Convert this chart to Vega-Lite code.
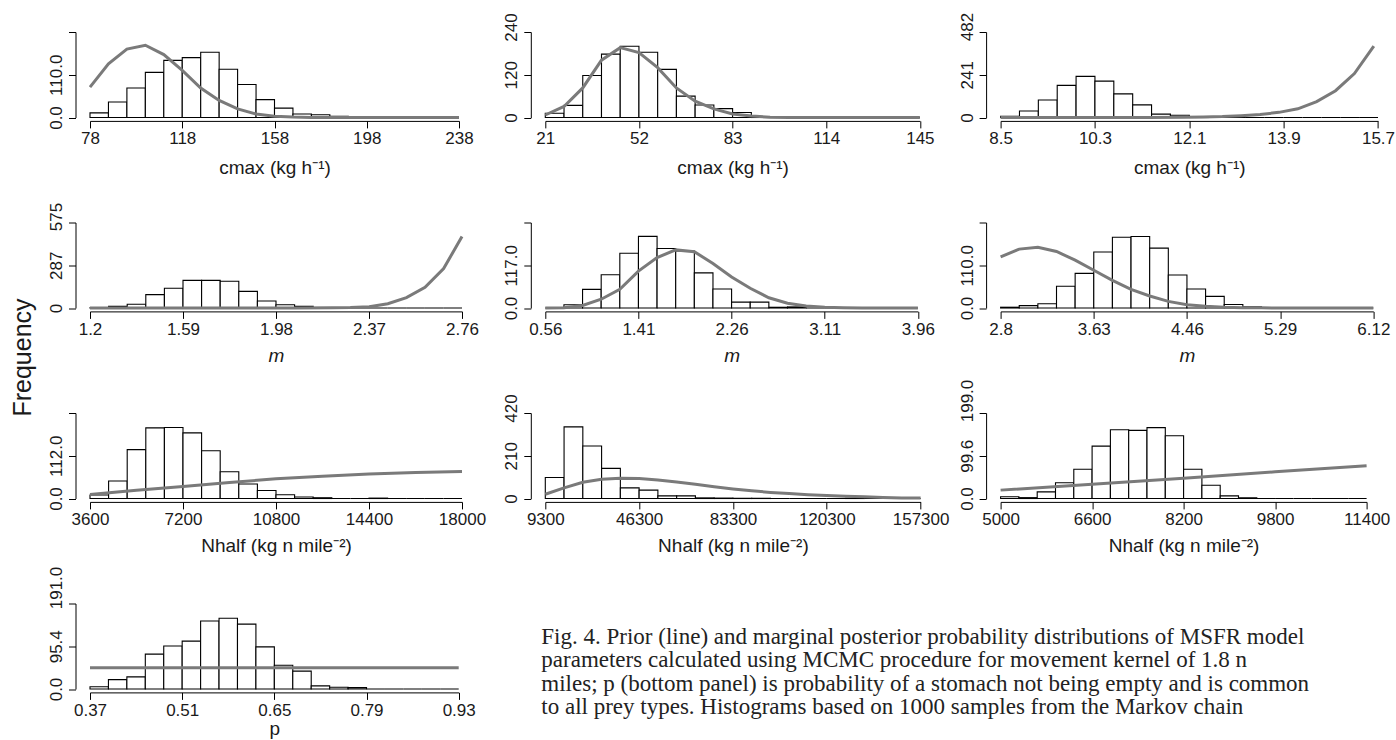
{
  "$schema": "https://vega.github.io/schema/vega-lite/v6.json",
  "background": "white",
  "padding": {"left": 10, "top": 12, "right": 0, "bottom": 0},
  "columns": 3,
  "spacing": {"row": 104.5, "column": 77.3},
  "bounds": "flush",
  "align": "all",
  "datasets": {
    "b1": [
      {"lo": 78, "hi": 86, "n": 12}, {"lo": 86, "hi": 94, "n": 40}, {"lo": 94, "hi": 102, "n": 76}, {"lo": 102, "hi": 110, "n": 116},
      {"lo": 110, "hi": 118, "n": 147}, {"lo": 118, "hi": 126, "n": 154}, {"lo": 126, "hi": 134, "n": 168}, {"lo": 134, "hi": 142, "n": 124},
      {"lo": 142, "hi": 150, "n": 85}, {"lo": 150, "hi": 158, "n": 46}, {"lo": 158, "hi": 166, "n": 24}, {"lo": 166, "hi": 174, "n": 9},
      {"lo": 174, "hi": 182, "n": 7}, {"lo": 182, "hi": 190, "n": 3}, {"lo": 190, "hi": 198, "n": 1}, {"lo": 198, "hi": 206, "n": 0},
      {"lo": 206, "hi": 214, "n": 0}, {"lo": 214, "hi": 222, "n": 0}, {"lo": 222, "hi": 230, "n": 0}, {"lo": 230, "hi": 238, "n": 0}
    ],
    "l1": [
      {"lo": 78, "n": 78}, {"lo": 86, "n": 138}, {"lo": 94, "n": 176}, {"lo": 102, "n": 186}, {"lo": 110, "n": 162},
      {"lo": 118, "n": 121}, {"lo": 126, "n": 76}, {"lo": 134, "n": 44}, {"lo": 142, "n": 22}, {"lo": 150, "n": 9},
      {"lo": 158, "n": 3.5}, {"lo": 166, "n": 1}, {"lo": 174, "n": 0.3}, {"lo": 190, "n": 0}, {"lo": 238, "n": 0}
    ],
    "b2": [
      {"lo": 21, "hi": 27.2, "n": 12}, {"lo": 27.2, "hi": 33.4, "n": 34}, {"lo": 33.4, "hi": 39.6, "n": 118}, {"lo": 39.6, "hi": 45.8, "n": 178},
      {"lo": 45.8, "hi": 52, "n": 200}, {"lo": 52, "hi": 58.2, "n": 183}, {"lo": 58.2, "hi": 64.4, "n": 135}, {"lo": 64.4, "hi": 70.6, "n": 60},
      {"lo": 70.6, "hi": 76.8, "n": 35}, {"lo": 76.8, "hi": 83, "n": 25}, {"lo": 83, "hi": 89.2, "n": 14}, {"lo": 89.2, "hi": 95.4, "n": 2},
      {"lo": 95.4, "hi": 101.6, "n": 1}, {"lo": 101.6, "hi": 107.8, "n": 0}, {"lo": 107.8, "hi": 114, "n": 0}, {"lo": 114, "hi": 120.2, "n": 0},
      {"lo": 120.2, "hi": 126.4, "n": 0}, {"lo": 126.4, "hi": 132.6, "n": 0}, {"lo": 132.6, "hi": 138.8, "n": 0}, {"lo": 138.8, "hi": 145, "n": 0}
    ],
    "l2": [
      {"lo": 21, "n": 7}, {"lo": 27.2, "n": 31}, {"lo": 33.4, "n": 83}, {"lo": 39.6, "n": 161}, {"lo": 45.8, "n": 196},
      {"lo": 52, "n": 182}, {"lo": 58.2, "n": 140}, {"lo": 64.4, "n": 83}, {"lo": 70.6, "n": 46}, {"lo": 76.8, "n": 24},
      {"lo": 83, "n": 10}, {"lo": 89.2, "n": 4}, {"lo": 95.4, "n": 1}, {"lo": 101.6, "n": 0.3}, {"lo": 145, "n": 0}
    ],
    "b3": [
      {"lo": 8.5, "hi": 8.86, "n": 7}, {"lo": 8.86, "hi": 9.22, "n": 37}, {"lo": 9.22, "hi": 9.58, "n": 99}, {"lo": 9.58, "hi": 9.94, "n": 181},
      {"lo": 9.94, "hi": 10.3, "n": 232}, {"lo": 10.3, "hi": 10.66, "n": 205}, {"lo": 10.66, "hi": 11.02, "n": 133}, {"lo": 11.02, "hi": 11.38, "n": 71},
      {"lo": 11.38, "hi": 11.74, "n": 19}, {"lo": 11.74, "hi": 12.1, "n": 13}, {"lo": 12.1, "hi": 12.46, "n": 2}, {"lo": 12.46, "hi": 12.82, "n": 0},
      {"lo": 12.82, "hi": 13.18, "n": 0}, {"lo": 13.18, "hi": 13.54, "n": 0}, {"lo": 13.54, "hi": 13.9, "n": 0}, {"lo": 13.9, "hi": 14.26, "n": 0},
      {"lo": 14.26, "hi": 14.62, "n": 0}, {"lo": 14.62, "hi": 14.98, "n": 0}, {"lo": 14.98, "hi": 15.34, "n": 0}, {"lo": 15.34, "hi": 15.7, "n": 0}
    ],
    "l3": [
      {"lo": 8.5, "n": 0}, {"lo": 11.3, "n": 0}, {"lo": 12.01, "n": 1}, {"lo": 12.37, "n": 3}, {"lo": 12.73, "n": 5},
      {"lo": 13.09, "n": 10}, {"lo": 13.45, "n": 17}, {"lo": 13.81, "n": 29}, {"lo": 14.17, "n": 49}, {"lo": 14.53, "n": 90},
      {"lo": 14.89, "n": 151}, {"lo": 15.25, "n": 248}, {"lo": 15.62, "n": 403}
    ],
    "b4": [
      {"lo": 1.2, "hi": 1.278, "n": 2}, {"lo": 1.278, "hi": 1.356, "n": 11}, {"lo": 1.356, "hi": 1.434, "n": 25}, {"lo": 1.434, "hi": 1.512, "n": 90},
      {"lo": 1.512, "hi": 1.59, "n": 133}, {"lo": 1.59, "hi": 1.668, "n": 186}, {"lo": 1.668, "hi": 1.746, "n": 186}, {"lo": 1.746, "hi": 1.824, "n": 180},
      {"lo": 1.824, "hi": 1.902, "n": 112}, {"lo": 1.902, "hi": 1.98, "n": 47}, {"lo": 1.98, "hi": 2.058, "n": 22}, {"lo": 2.058, "hi": 2.136, "n": 11},
      {"lo": 2.136, "hi": 2.214, "n": 0}, {"lo": 2.214, "hi": 2.292, "n": 0}, {"lo": 2.292, "hi": 2.37, "n": 0}, {"lo": 2.37, "hi": 2.448, "n": 0},
      {"lo": 2.448, "hi": 2.526, "n": 0}, {"lo": 2.526, "hi": 2.604, "n": 0}, {"lo": 2.604, "hi": 2.682, "n": 0}, {"lo": 2.682, "hi": 2.76, "n": 0}
    ],
    "l4": [
      {"lo": 1.2, "n": 0}, {"lo": 2.058, "n": 0}, {"lo": 2.214, "n": 1}, {"lo": 2.292, "n": 3}, {"lo": 2.371, "n": 8},
      {"lo": 2.449, "n": 29}, {"lo": 2.527, "n": 70}, {"lo": 2.605, "n": 139}, {"lo": 2.683, "n": 265}, {"lo": 2.76, "n": 481}
    ],
    "b5": [
      {"lo": 0.56, "hi": 0.73, "n": 0}, {"lo": 0.73, "hi": 0.9, "n": 9}, {"lo": 0.9, "hi": 1.07, "n": 51}, {"lo": 1.07, "hi": 1.24, "n": 91},
      {"lo": 1.24, "hi": 1.41, "n": 150}, {"lo": 1.41, "hi": 1.58, "n": 196}, {"lo": 1.58, "hi": 1.75, "n": 163}, {"lo": 1.75, "hi": 1.92, "n": 156},
      {"lo": 1.92, "hi": 2.09, "n": 96}, {"lo": 2.09, "hi": 2.26, "n": 52}, {"lo": 2.26, "hi": 2.43, "n": 16}, {"lo": 2.43, "hi": 2.6, "n": 16},
      {"lo": 2.6, "hi": 2.77, "n": 2}, {"lo": 2.77, "hi": 2.94, "n": 3}, {"lo": 2.94, "hi": 3.11, "n": 0}, {"lo": 3.11, "hi": 3.28, "n": 0},
      {"lo": 3.28, "hi": 3.45, "n": 0}, {"lo": 3.45, "hi": 3.62, "n": 0}, {"lo": 3.62, "hi": 3.79, "n": 0}, {"lo": 3.79, "hi": 3.96, "n": 0}
    ],
    "l5": [
      {"lo": 0.56, "n": 0}, {"lo": 0.73, "n": 1}, {"lo": 0.9, "n": 7}, {"lo": 1.07, "n": 24}, {"lo": 1.24, "n": 51},
      {"lo": 1.41, "n": 101}, {"lo": 1.58, "n": 138}, {"lo": 1.75, "n": 159}, {"lo": 1.92, "n": 154}, {"lo": 2.09, "n": 122},
      {"lo": 2.26, "n": 85}, {"lo": 2.43, "n": 54}, {"lo": 2.6, "n": 28}, {"lo": 2.77, "n": 13}, {"lo": 2.94, "n": 5.5},
      {"lo": 3.11, "n": 2}, {"lo": 3.28, "n": 0.5}, {"lo": 3.45, "n": 0}, {"lo": 3.96, "n": 0}
    ],
    "b6": [
      {"lo": 2.8, "hi": 2.966, "n": 2}, {"lo": 2.966, "hi": 3.132, "n": 6}, {"lo": 3.132, "hi": 3.298, "n": 11}, {"lo": 3.298, "hi": 3.464, "n": 56},
      {"lo": 3.464, "hi": 3.63, "n": 89}, {"lo": 3.63, "hi": 3.796, "n": 144}, {"lo": 3.796, "hi": 3.962, "n": 182}, {"lo": 3.962, "hi": 4.128, "n": 184},
      {"lo": 4.128, "hi": 4.294, "n": 154}, {"lo": 4.294, "hi": 4.46, "n": 85}, {"lo": 4.46, "hi": 4.626, "n": 49}, {"lo": 4.626, "hi": 4.792, "n": 30},
      {"lo": 4.792, "hi": 4.958, "n": 9}, {"lo": 4.958, "hi": 5.124, "n": 3}, {"lo": 5.124, "hi": 5.29, "n": 0}, {"lo": 5.29, "hi": 5.456, "n": 0},
      {"lo": 5.456, "hi": 5.622, "n": 0}, {"lo": 5.622, "hi": 5.788, "n": 0}, {"lo": 5.788, "hi": 5.954, "n": 0}, {"lo": 5.954, "hi": 6.12, "n": 0}
    ],
    "l6": [
      {"lo": 2.8, "n": 131.5}, {"lo": 2.966, "n": 151.5}, {"lo": 3.132, "n": 156}, {"lo": 3.298, "n": 145.5}, {"lo": 3.464, "n": 123},
      {"lo": 3.63, "n": 97}, {"lo": 3.796, "n": 71}, {"lo": 3.962, "n": 48}, {"lo": 4.128, "n": 31}, {"lo": 4.294, "n": 17},
      {"lo": 4.46, "n": 8.6}, {"lo": 4.626, "n": 4.3}, {"lo": 4.792, "n": 1.7}, {"lo": 4.958, "n": 0.9}, {"lo": 5.124, "n": 0.4},
      {"lo": 5.29, "n": 0}, {"lo": 6.12, "n": 0}
    ],
    "b7": [
      {"lo": 3600, "hi": 4320, "n": 9}, {"lo": 4320, "hi": 5040, "n": 46}, {"lo": 5040, "hi": 5760, "n": 128}, {"lo": 5760, "hi": 6480, "n": 185},
      {"lo": 6480, "hi": 7200, "n": 186}, {"lo": 7200, "hi": 7920, "n": 172}, {"lo": 7920, "hi": 8640, "n": 125}, {"lo": 8640, "hi": 9360, "n": 70},
      {"lo": 9360, "hi": 10080, "n": 38}, {"lo": 10080, "hi": 10800, "n": 21}, {"lo": 10800, "hi": 11520, "n": 10}, {"lo": 11520, "hi": 12240, "n": 4},
      {"lo": 12240, "hi": 12960, "n": 2}, {"lo": 12960, "hi": 13680, "n": 0}, {"lo": 13680, "hi": 14400, "n": 0}, {"lo": 14400, "hi": 15120, "n": 1},
      {"lo": 15120, "hi": 15840, "n": 0}, {"lo": 15840, "hi": 16560, "n": 0}, {"lo": 16560, "hi": 17280, "n": 0}, {"lo": 17280, "hi": 18000, "n": 0}
    ],
    "l7": [
      {"lo": 3600, "n": 10.5}, {"lo": 5400, "n": 21.5}, {"lo": 7200, "n": 31.5}, {"lo": 9000, "n": 42}, {"lo": 10800, "n": 51.6},
      {"lo": 12600, "n": 58.5}, {"lo": 14400, "n": 63.9}, {"lo": 16200, "n": 68}, {"lo": 18000, "n": 70.9}
    ],
    "b8": [
      {"lo": 9300, "hi": 16700, "n": 103}, {"lo": 16700, "hi": 24100, "n": 352}, {"lo": 24100, "hi": 31500, "n": 258}, {"lo": 31500, "hi": 38900, "n": 148},
      {"lo": 38900, "hi": 46300, "n": 52}, {"lo": 46300, "hi": 53700, "n": 41}, {"lo": 53700, "hi": 61100, "n": 13}, {"lo": 61100, "hi": 68500, "n": 13},
      {"lo": 68500, "hi": 75900, "n": 3}, {"lo": 75900, "hi": 83300, "n": 2}, {"lo": 83300, "hi": 90700, "n": 1}, {"lo": 90700, "hi": 98100, "n": 1},
      {"lo": 98100, "hi": 105500, "n": 0}, {"lo": 105500, "hi": 112900, "n": 0}, {"lo": 112900, "hi": 120300, "n": 0}, {"lo": 120300, "hi": 127700, "n": 0},
      {"lo": 127700, "hi": 135100, "n": 1}, {"lo": 135100, "hi": 142500, "n": 0}, {"lo": 142500, "hi": 149900, "n": 0}, {"lo": 149900, "hi": 157300, "n": 0}
    ],
    "l8": [
      {"lo": 9300, "n": 21}, {"lo": 16700, "n": 52}, {"lo": 24100, "n": 80}, {"lo": 31500, "n": 95}, {"lo": 38900, "n": 100},
      {"lo": 46300, "n": 98}, {"lo": 53700, "n": 91}, {"lo": 61100, "n": 81}, {"lo": 68500, "n": 70}, {"lo": 75900, "n": 58},
      {"lo": 83300, "n": 47}, {"lo": 90700, "n": 38}, {"lo": 98100, "n": 30}, {"lo": 105500, "n": 24}, {"lo": 112900, "n": 19},
      {"lo": 120300, "n": 15}, {"lo": 127700, "n": 11}, {"lo": 135100, "n": 8}, {"lo": 142500, "n": 5}, {"lo": 149900, "n": 3},
      {"lo": 157300, "n": 2}
    ],
    "b9": [
      {"lo": 5000, "hi": 5320, "n": 4}, {"lo": 5320, "hi": 5640, "n": 2}, {"lo": 5640, "hi": 5960, "n": 15.5}, {"lo": 5960, "hi": 6280, "n": 36.5},
      {"lo": 6280, "hi": 6600, "n": 68}, {"lo": 6600, "hi": 6920, "n": 122}, {"lo": 6920, "hi": 7240, "n": 160}, {"lo": 7240, "hi": 7560, "n": 158.6},
      {"lo": 7560, "hi": 7880, "n": 165}, {"lo": 7880, "hi": 8200, "n": 146}, {"lo": 8200, "hi": 8520, "n": 68}, {"lo": 8520, "hi": 8840, "n": 31},
      {"lo": 8840, "hi": 9160, "n": 6}, {"lo": 9160, "hi": 9480, "n": 1.5}, {"lo": 9480, "hi": 9800, "n": 0}, {"lo": 9800, "hi": 10120, "n": 0},
      {"lo": 10120, "hi": 10440, "n": 0}, {"lo": 10440, "hi": 10760, "n": 0}, {"lo": 10760, "hi": 11080, "n": 0}, {"lo": 11080, "hi": 11400, "n": 0}
    ],
    "l9": [
      {"lo": 5000, "n": 19.5}, {"lo": 6600, "n": 33}, {"lo": 8200, "n": 47}, {"lo": 9800, "n": 62}, {"lo": 11400, "n": 76}
    ],
    "b10": [
      {"lo": 0.37, "hi": 0.398, "n": 5}, {"lo": 0.398, "hi": 0.426, "n": 21}, {"lo": 0.426, "hi": 0.454, "n": 27}, {"lo": 0.454, "hi": 0.482, "n": 78},
      {"lo": 0.482, "hi": 0.51, "n": 96}, {"lo": 0.51, "hi": 0.538, "n": 107}, {"lo": 0.538, "hi": 0.566, "n": 152}, {"lo": 0.566, "hi": 0.594, "n": 158},
      {"lo": 0.594, "hi": 0.622, "n": 145}, {"lo": 0.622, "hi": 0.65, "n": 94}, {"lo": 0.65, "hi": 0.678, "n": 53}, {"lo": 0.678, "hi": 0.706, "n": 40},
      {"lo": 0.706, "hi": 0.734, "n": 7}, {"lo": 0.734, "hi": 0.762, "n": 4}, {"lo": 0.762, "hi": 0.79, "n": 3}, {"lo": 0.79, "hi": 0.818, "n": 0},
      {"lo": 0.818, "hi": 0.846, "n": 0}, {"lo": 0.846, "hi": 0.874, "n": 0}, {"lo": 0.874, "hi": 0.902, "n": 0}, {"lo": 0.902, "hi": 0.93, "n": 0}
    ],
    "l10": [
      {"lo": 0.37, "n": 47.4}, {"lo": 0.93, "n": 47.4}
    ],
    "cap": [
      {"col": 0, "line": 1, "txt": "Fig. 4. Prior (line) and marginal posterior probability distributions of MSFR model"},
      {"col": 0, "line": 2, "txt": "parameters calculated using MCMC procedure for movement kernel of 1.8 n"},
      {"col": 0, "line": 3, "txt": "miles;  p (bottom panel) is probability of a stomach not being empty and is common"},
      {"col": 0, "line": 4, "txt": "to all prey types. Histograms based on 1000 samples from the Markov chain"}
    ]
  },
  "concat": [
    {
      "width": 369, "height": 85.5,
      "layer": [
        {"data": {"name": "b1"}, "mark": {"type": "rect", "fill": "white", "stroke": "black", "strokeWidth": 1.1},
         "encoding": {
           "x": {"field": "lo", "type": "quantitative", "scale": {"domain": [78, 238], "nice": false, "zero": false},
                 "axis": {"values": [78, 118, 158, 198, 238], "labelExpr": "'' + datum.value", "title": "cmax (kg h⁻¹)", "titleY": 53}},
           "x2": {"field": "hi"},
           "y": {"field": "n", "type": "quantitative", "scale": {"domain": [0, 220], "nice": false},
                 "axis": {"values": [0, 55, 110, 165, 220], "labelExpr": "datum.value == 0 ? '0.0' : datum.value == 110 ? '110.0' : ''", "title": null}},
           "y2": {"datum": 0}}},
        {"data": {"name": "l1"}, "mark": {"type": "line", "stroke": "#7a7a7a", "strokeWidth": 3},
         "encoding": {"x": {"field": "lo", "type": "quantitative"}, "y": {"field": "n", "type": "quantitative"}}}
      ]
    },
    {
      "width": 374.6, "height": 85.5,
      "layer": [
        {"data": {"name": "b2"}, "mark": {"type": "rect", "fill": "white", "stroke": "black", "strokeWidth": 1.1},
         "encoding": {
           "x": {"field": "lo", "type": "quantitative", "scale": {"domain": [21, 145], "nice": false, "zero": false},
                 "axis": {"values": [21, 52, 83, 114, 145], "labelExpr": "'' + datum.value", "title": "cmax (kg h⁻¹)", "titleY": 53}},
           "x2": {"field": "hi"},
           "y": {"field": "n", "type": "quantitative", "scale": {"domain": [0, 240], "nice": false},
                 "axis": {"values": [0, 60, 120, 180, 240], "labelExpr": "datum.value == 0 ? '0' : datum.value == 120 ? '120' : datum.value == 240 ? '240' : ''", "title": null,
                          "labelOffset": {"condition": {"test": "datum.value == 240", "value": -5}, "value": 0}}},
           "y2": {"datum": 0}}},
        {"data": {"name": "l2"}, "mark": {"type": "line", "stroke": "#7a7a7a", "strokeWidth": 3},
         "encoding": {"x": {"field": "lo", "type": "quantitative"}, "y": {"field": "n", "type": "quantitative"}}}
      ]
    },
    {
      "width": 377.4, "height": 85.5,
      "layer": [
        {"data": {"name": "b3"}, "mark": {"type": "rect", "fill": "white", "stroke": "black", "strokeWidth": 1.1},
         "encoding": {
           "x": {"field": "lo", "type": "quantitative", "scale": {"domain": [8.5, 15.7], "nice": false, "zero": false},
                 "axis": {"values": [8.5, 10.3, 12.1, 13.9, 15.7], "labelExpr": "'' + datum.value", "title": "cmax (kg h⁻¹)", "titleY": 53}},
           "x2": {"field": "hi"},
           "y": {"field": "n", "type": "quantitative", "scale": {"domain": [0, 482], "nice": false},
                 "axis": {"values": [0, 120.5, 241, 361.5, 482], "labelExpr": "datum.value == 0 ? '0' : datum.value == 241 ? '241' : datum.value == 482 ? '482' : ''", "title": null,
                          "labelOffset": {"condition": {"test": "datum.value == 482", "value": -5.5}, "value": 0}}},
           "y2": {"datum": 0}}},
        {"data": {"name": "l3"}, "mark": {"type": "line", "stroke": "#7a7a7a", "strokeWidth": 3},
         "encoding": {"x": {"field": "lo", "type": "quantitative"}, "y": {"field": "n", "type": "quantitative"}}}
      ]
    },
    {
      "width": 372, "height": 85.5,
      "layer": [
        {"data": {"name": "b4"}, "mark": {"type": "rect", "fill": "white", "stroke": "black", "strokeWidth": 1.1},
         "encoding": {
           "x": {"field": "lo", "type": "quantitative", "scale": {"domain": [1.2, 2.76], "nice": false, "zero": false},
                 "axis": {"values": [1.2, 1.59, 1.98, 2.37, 2.76], "labelExpr": "'' + datum.value", "title": "m", "titleFontStyle": "italic", "titleY": 50}},
           "x2": {"field": "hi"},
           "y": {"field": "n", "type": "quantitative", "scale": {"domain": [0, 575], "nice": false},
                 "axis": {"values": [0, 143.75, 287.5, 431.25, 575], "labelExpr": "datum.value == 0 ? '0' : datum.value == 287.5 ? '287' : datum.value == 575 ? '575' : ''",
                          "labelOffset": {"condition": {"test": "datum.value == 575", "value": -6}, "value": 0},
                          "title": "Frequency", "titleFontSize": 25, "titleAngle": -90, "titleAlign": "center", "titleBaseline": "alphabetic", "titleX": -45.5, "titleY": 134.5}},
           "y2": {"datum": 0}}},
        {"data": {"name": "l4"}, "mark": {"type": "line", "stroke": "#7a7a7a", "strokeWidth": 3},
         "encoding": {"x": {"field": "lo", "type": "quantitative"}, "y": {"field": "n", "type": "quantitative"}}}
      ]
    },
    {
      "width": 372.6, "height": 85.5,
      "layer": [
        {"data": {"name": "b5"}, "mark": {"type": "rect", "fill": "white", "stroke": "black", "strokeWidth": 1.1},
         "encoding": {
           "x": {"field": "lo", "type": "quantitative", "scale": {"domain": [0.56, 3.96], "nice": false, "zero": false},
                 "axis": {"values": [0.56, 1.41, 2.26, 3.11, 3.96], "labelExpr": "'' + datum.value", "title": "m", "titleFontStyle": "italic", "titleY": 50}},
           "x2": {"field": "hi"},
           "y": {"field": "n", "type": "quantitative", "scale": {"domain": [0, 234], "nice": false},
                 "axis": {"values": [0, 58.5, 117, 175.5, 234], "labelExpr": "datum.value == 0 ? '0.0' : datum.value == 117 ? '117.0' : ''", "title": null}},
           "y2": {"datum": 0}}},
        {"data": {"name": "l5"}, "mark": {"type": "line", "stroke": "#7a7a7a", "strokeWidth": 3},
         "encoding": {"x": {"field": "lo", "type": "quantitative"}, "y": {"field": "n", "type": "quantitative"}}}
      ]
    },
    {
      "width": 372.7, "height": 85.5,
      "layer": [
        {"data": {"name": "b6"}, "mark": {"type": "rect", "fill": "white", "stroke": "black", "strokeWidth": 1.1},
         "encoding": {
           "x": {"field": "lo", "type": "quantitative", "scale": {"domain": [2.8, 6.12], "nice": false, "zero": false},
                 "axis": {"values": [2.8, 3.63, 4.46, 5.29, 6.12], "labelExpr": "'' + datum.value", "title": "m", "titleFontStyle": "italic", "titleY": 50}},
           "x2": {"field": "hi"},
           "y": {"field": "n", "type": "quantitative", "scale": {"domain": [0, 220], "nice": false},
                 "axis": {"values": [0, 55, 110, 165, 220], "labelExpr": "datum.value == 0 ? '0.0' : datum.value == 110 ? '110.0' : ''", "title": null}},
           "y2": {"datum": 0}}},
        {"data": {"name": "l6"}, "mark": {"type": "line", "stroke": "#7a7a7a", "strokeWidth": 3},
         "encoding": {"x": {"field": "lo", "type": "quantitative"}, "y": {"field": "n", "type": "quantitative"}}}
      ]
    },
    {
      "width": 372, "height": 85.5,
      "layer": [
        {"data": {"name": "b7"}, "mark": {"type": "rect", "fill": "white", "stroke": "black", "strokeWidth": 1.1},
         "encoding": {
           "x": {"field": "lo", "type": "quantitative", "scale": {"domain": [3600, 18000], "nice": false, "zero": false},
                 "axis": {"values": [3600, 7200, 10800, 14400, 18000], "labelExpr": "'' + datum.value", "title": "Nhalf (kg n mile⁻²)", "titleY": 50}},
           "x2": {"field": "hi"},
           "y": {"field": "n", "type": "quantitative", "scale": {"domain": [0, 224], "nice": false},
                 "axis": {"values": [0, 56, 112, 168, 224], "labelExpr": "datum.value == 0 ? '0.0' : datum.value == 112 ? '112.0' : ''", "title": null}},
           "y2": {"datum": 0}}},
        {"data": {"name": "l7"}, "mark": {"type": "line", "stroke": "#7a7a7a", "strokeWidth": 3},
         "encoding": {"x": {"field": "lo", "type": "quantitative"}, "y": {"field": "n", "type": "quantitative"}}}
      ]
    },
    {
      "width": 375.3, "height": 85.5,
      "layer": [
        {"data": {"name": "b8"}, "mark": {"type": "rect", "fill": "white", "stroke": "black", "strokeWidth": 1.1},
         "encoding": {
           "x": {"field": "lo", "type": "quantitative", "scale": {"domain": [9300, 157300], "nice": false, "zero": false},
                 "axis": {"values": [9300, 46300, 83300, 120300, 157300], "labelExpr": "'' + datum.value", "title": "Nhalf (kg n mile⁻²)", "titleY": 50}},
           "x2": {"field": "hi"},
           "y": {"field": "n", "type": "quantitative", "scale": {"domain": [0, 420], "nice": false},
                 "axis": {"values": [0, 105, 210, 315, 420], "labelExpr": "datum.value == 0 ? '0' : datum.value == 210 ? '210' : datum.value == 420 ? '420' : ''", "title": null,
                          "labelOffset": {"condition": {"test": "datum.value == 420", "value": -5}, "value": 0}}},
           "y2": {"datum": 0}}},
        {"data": {"name": "l8"}, "mark": {"type": "line", "stroke": "#7a7a7a", "strokeWidth": 3},
         "encoding": {"x": {"field": "lo", "type": "quantitative"}, "y": {"field": "n", "type": "quantitative"}}}
      ]
    },
    {
      "width": 366, "height": 85.5,
      "layer": [
        {"data": {"name": "b9"}, "mark": {"type": "rect", "fill": "white", "stroke": "black", "strokeWidth": 1.1},
         "encoding": {
           "x": {"field": "lo", "type": "quantitative", "scale": {"domain": [5000, 11400], "nice": false, "zero": false},
                 "axis": {"values": [5000, 6600, 8200, 9800, 11400], "labelExpr": "'' + datum.value", "title": "Nhalf (kg n mile⁻²)", "titleY": 50}},
           "x2": {"field": "hi"},
           "y": {"field": "n", "type": "quantitative", "scale": {"domain": [0, 199], "nice": false},
                 "axis": {"values": [0, 49.75, 99.5, 149.25, 199], "labelExpr": "datum.value == 0 ? '0.0' : datum.value == 99.5 ? '99.6' : datum.value == 199 ? '199.0' : ''", "title": null,
                          "labelOffset": {"condition": {"test": "datum.value == 199", "value": -12.5}, "value": 0}}},
           "y2": {"datum": 0}}},
        {"data": {"name": "l9"}, "mark": {"type": "line", "stroke": "#7a7a7a", "strokeWidth": 3},
         "encoding": {"x": {"field": "lo", "type": "quantitative"}, "y": {"field": "n", "type": "quantitative"}}}
      ]
    },
    {
      "width": 368.7, "height": 85.5,
      "layer": [
        {"data": {"name": "b10"}, "mark": {"type": "rect", "fill": "white", "stroke": "black", "strokeWidth": 1.1},
         "encoding": {
           "x": {"field": "lo", "type": "quantitative", "scale": {"domain": [0.37, 0.93], "nice": false, "zero": false},
                 "axis": {"values": [0.37, 0.51, 0.65, 0.79, 0.93], "labelExpr": "'' + datum.value", "title": "p", "titleY": 42}},
           "x2": {"field": "hi"},
           "y": {"field": "n", "type": "quantitative", "scale": {"domain": [0, 191], "nice": false},
                 "axis": {"values": [0, 47.75, 95.5, 143.25, 191], "labelExpr": "datum.value == 0 ? '0.0' : datum.value == 95.5 ? '95.4' : datum.value == 191 ? '191.0' : ''", "title": null,
                          "labelOffset": {"condition": {"test": "datum.value == 191", "value": -16}, "value": 0}}},
           "y2": {"datum": 0}}},
        {"data": {"name": "l10"}, "mark": {"type": "line", "stroke": "#7a7a7a", "strokeWidth": 3},
         "encoding": {"x": {"field": "lo", "type": "quantitative"}, "y": {"field": "n", "type": "quantitative"}}}
      ]
    },
    {
      "width": 377, "height": 85.5,
      "data": {"name": "cap"},
      "mark": {"type": "text", "align": "left", "baseline": "middle", "font": "Liberation Serif", "fontSize": 23, "color": "#222", "dx": -4},
      "encoding": {
        "x": {"field": "col", "type": "quantitative", "scale": {"domain": [0, 1]}, "axis": null},
        "y": {"field": "line", "type": "quantitative", "scale": {"domain": [-0.438, 3.232], "reverse": true, "nice": false, "zero": false}, "axis": null},
        "text": {"field": "txt"}
      }
    }
  ],
  "config": {
    "view": {"stroke": null},
    "font": "Liberation Sans",
    "axis": {
      "grid": false, "domainColor": "#000", "tickColor": "#000", "labelColor": "#1a1a1a", "titleColor": "#1a1a1a",
      "labelFont": "Liberation Sans", "titleFont": "Liberation Sans", "labelFontSize": 17, "titleFontSize": 19, "titleFontWeight": "normal",
      "tickSize": 7, "domainWidth": 1, "tickWidth": 1, "labelOverlap": false, "labelFlush": false, "labelBound": false
    },
    "axisX": {"offset": 3.4, "labelPadding": 3, "titleBaseline": "alphabetic"},
    "axisY": {"offset": 14.5, "labelAngle": -90, "labelAlign": "center", "labelBaseline": "bottom", "labelPadding": 3}
  }
}
